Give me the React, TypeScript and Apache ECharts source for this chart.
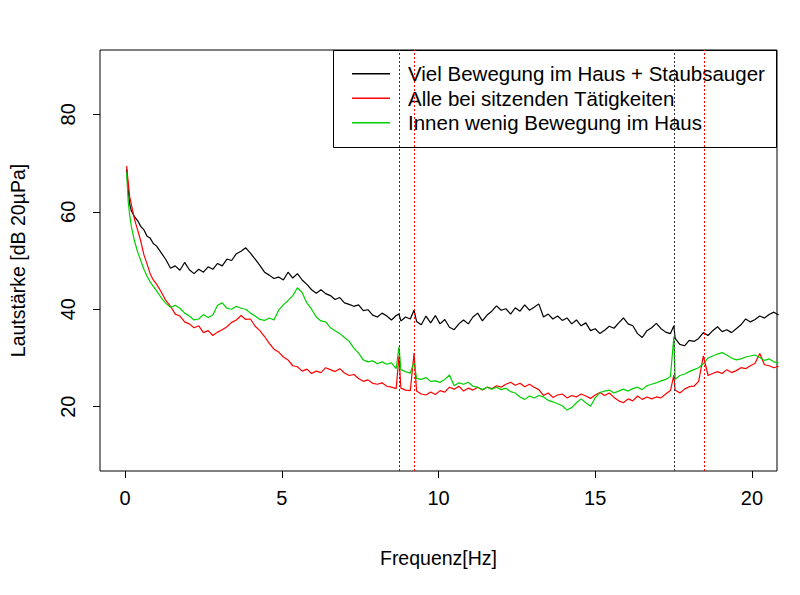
import React, { useEffect, useRef } from "react";
import * as echarts from "echarts";

const freq = [
  0.05, 0.1, 0.15, 0.2, 0.3, 0.4, 0.5, 0.6, 0.7, 0.8, 0.9, 1.0,
  1.15, 1.3, 1.45, 1.6, 1.75, 1.9,
  2.05, 2.2, 2.35, 2.5, 2.65, 2.8, 2.95,
  3.1, 3.25, 3.4, 3.55, 3.7, 3.85,
  4.0, 4.15, 4.3, 4.45, 4.6, 4.75, 4.9,
  5.05, 5.2, 5.35, 5.5, 5.65, 5.8, 5.95,
  6.1, 6.25, 6.4, 6.55, 6.7, 6.85,
  7.0, 7.15, 7.3, 7.45, 7.6, 7.75, 7.9,
  8.05, 8.2, 8.35, 8.5, 8.65,
  8.74, 8.8, 8.95, 9.1, 9.22, 9.3,
  9.45, 9.6, 9.75, 9.9,
  10.05, 10.2, 10.35, 10.5, 10.65, 10.8, 10.95,
  11.1, 11.25, 11.4, 11.55, 11.7, 11.85,
  12.0, 12.15, 12.3, 12.45, 12.6, 12.75, 12.9,
  13.05, 13.2, 13.35, 13.5, 13.65, 13.8, 13.95,
  14.1, 14.25, 14.4, 14.55, 14.7, 14.85,
  15.0, 15.15, 15.3, 15.45, 15.6, 15.75, 15.9,
  16.05, 16.2, 16.35, 16.5, 16.65, 16.8, 16.95,
  17.1, 17.25, 17.4,
  17.51, 17.55,
  17.7, 17.85,
  18.0, 18.15, 18.3, 18.45, 18.6, 18.75, 18.9,
  19.05, 19.2, 19.35, 19.5, 19.65, 19.8, 19.95,
  20.1, 20.25, 20.4, 20.55, 20.7, 20.85,
];

const vielBewegung = [
  68.8, 64.5, 61.5, 60.2, 59.0, 58.2, 57.0, 56.3, 55.0, 54.6, 53.5, 53.0,
  51.6, 50.2, 48.4, 48.9, 48.0, 49.6,
  48.1, 47.3, 48.2, 47.6, 48.7, 48.2, 49.4,
  48.9, 50.3, 50.0, 51.4, 51.9, 52.6,
  51.5, 50.3, 49.0, 47.6, 47.0, 46.3, 46.6,
  46.0, 47.6, 46.4, 47.3, 46.0, 45.1, 44.0,
  43.3, 44.0, 43.2, 42.8, 42.0, 42.4,
  41.3, 41.0, 40.6, 40.9, 39.7, 39.9, 38.8,
  38.4, 39.2, 38.6, 37.8, 38.7,
  39.0, 37.6, 38.4, 38.0, 39.8, 37.5,
  36.8, 38.6, 37.2, 38.7,
  37.0, 37.9, 36.3, 35.8, 37.0, 37.8, 37.0,
  38.4, 39.2, 37.6, 38.8, 39.6, 40.7,
  39.8, 40.1, 39.0, 40.3, 39.6, 40.9, 39.8,
  40.4, 41.1, 38.4, 39.0, 38.0, 38.6, 37.7,
  38.2, 37.0, 37.8, 36.6, 37.2, 35.6,
  36.0, 35.0, 35.7, 36.5, 36.1, 37.2, 38.2,
  37.0, 36.6, 35.0, 34.2, 35.6, 36.2, 37.1,
  36.0, 35.3, 35.0,
  36.6, 34.0,
  32.8, 32.5,
  33.6, 33.4, 34.0, 35.2, 34.6, 35.6, 36.4,
  35.4, 35.8, 35.2, 36.0, 36.8, 38.0, 37.4,
  37.9, 38.6, 38.2, 38.9, 39.4, 38.8,
];

const sitzend = [
  69.4, 66.0, 63.0, 61.5, 58.5, 56.3, 54.0, 51.2, 49.3, 47.3, 46.0, 45.2,
  43.6, 41.8, 40.6, 39.0, 38.6, 37.4,
  37.0, 36.2, 36.6, 35.2, 35.6, 34.6, 35.3,
  35.8, 36.4, 37.3, 37.8, 38.7, 37.9,
  38.0, 36.5, 35.6, 34.4, 33.0, 31.8, 31.2,
  30.2, 29.6, 28.4, 28.2, 27.3, 27.7, 26.8,
  27.3, 27.0, 28.0, 27.6, 27.2, 27.8,
  26.9, 26.4, 26.6, 25.8, 25.2, 25.5, 24.8,
  24.6, 24.9, 24.2, 24.0, 23.7,
  30.5, 23.8, 23.4, 23.3, 31.0, 23.2,
  22.6, 22.4, 23.0, 22.5,
  23.3, 23.0, 24.0, 23.6, 24.2, 23.2, 23.8,
  23.4, 24.0, 23.4, 24.0, 23.7, 24.3,
  24.0, 24.6, 25.0, 24.4, 24.8, 24.1, 24.6,
  24.0, 23.5, 22.3, 22.8, 21.9, 22.4, 22.6,
  21.8, 22.3, 22.0, 22.6, 22.2, 21.7,
  22.4, 22.9, 22.3, 22.8, 21.9, 21.2, 20.8,
  21.6, 21.2, 22.2, 21.5, 22.0, 21.6, 22.0,
  21.8, 22.6, 23.3,
  26.5, 23.4,
  22.8, 23.6,
  24.1, 24.2, 25.2, 30.4, 26.4, 26.8, 27.2,
  26.8, 27.6, 27.0, 27.4, 28.0, 27.8, 28.4,
  28.9, 30.9, 28.6, 28.4, 28.0, 28.3,
];

const wenigBewegung = [
  68.0, 62.0, 59.2, 57.0, 54.0, 51.8, 50.0, 48.2, 46.8, 45.6, 44.7, 43.8,
  42.4, 41.2, 40.4, 40.8, 40.2, 39.2,
  38.6, 37.8, 38.0, 38.9, 38.3, 38.8, 40.8,
  41.3, 40.2, 40.0, 40.6, 40.2, 40.0,
  39.2, 38.6, 37.9, 37.7, 38.2, 37.8, 39.8,
  40.9, 41.8, 42.8, 44.4, 43.4, 41.3, 40.0,
  38.4, 37.6, 37.4, 36.2, 35.6, 35.0,
  34.2, 33.4, 32.0, 31.0, 29.6, 29.2, 29.4,
  28.8, 29.2, 28.7, 29.0, 27.8,
  32.3, 27.6, 27.2, 26.9, 29.2, 25.8,
  25.6, 26.0, 25.2, 25.3,
  25.0, 25.6, 26.5, 24.3, 24.9, 24.6, 25.0,
  24.2, 24.0, 23.5, 24.0, 23.6, 24.0,
  23.5, 23.8, 23.1, 22.8, 22.0, 21.5, 22.2,
  21.8, 22.3, 22.0, 21.3, 21.0, 20.6, 20.2,
  19.3, 19.8, 20.8, 21.6, 20.8, 20.1,
  21.8, 22.9, 23.2, 23.4, 22.8, 23.2, 23.6,
  23.2, 23.7, 24.0, 23.5, 24.3, 24.6, 24.9,
  25.3, 25.6, 26.2,
  34.4, 25.6,
  26.4, 26.7,
  27.2, 27.6, 28.0, 28.8, 30.0, 30.4, 30.8,
  31.1, 30.6, 30.0, 29.6, 29.8, 30.2, 30.4,
  30.6, 30.1, 29.5, 29.8, 29.2, 29.0,
];

const seriesNames = [
  "Viel Bewegung im Haus + Staubsauger",
  "Alle bei sitzenden Tätigkeiten",
  "Innen wenig Bewegung im Haus",
];
const seriesColors = ["#000000", "#FF0000", "#00D000"];

const xTicks = [0, 5, 10, 15, 20];
const yTicks = [20, 40, 60, 80];
const blackMarkers = [8.74, 17.51];
const redMarkers = [9.22, 18.47];

const FONT = "'Liberation Sans', Arial, Helvetica, sans-serif";

export default function App() {
  const ref = useRef<HTMLDivElement>(null);
  useEffect(() => {
    if (!ref.current) return;
    const chart = echarts.init(ref.current, null, { renderer: "svg" });
    const values = [vielBewegung, sitzend, wenigBewegung];
    const series: any[] = values.map((vals, si) => ({
      name: seriesNames[si],
      type: "line",
      symbol: "none",
      showSymbol: false,
      silent: true,
      z: 2 + si,
      lineStyle: { color: seriesColors[si], width: 1.2 },
      itemStyle: { color: seriesColors[si] },
      data: freq.map((f, i) => [f, vals[i]]),
    }));
    series[2].markLine = {
      silent: true,
      symbol: ["none", "none"],
      label: { show: false },
      animation: false,
      data: [
        ...blackMarkers.map((v) => ({
          xAxis: v,
          lineStyle: { color: "#333333", type: [2, 2], width: 1 },
        })),
        ...redMarkers.map((v) => ({
          xAxis: v,
          lineStyle: { color: "#FF0000", type: [2, 2], width: 1 },
        })),
      ],
    };
    chart.setOption({
      animation: false,
      backgroundColor: "#ffffff",
      textStyle: { fontFamily: FONT },
      grid: {
        left: 100,
        right: 23,
        top: 50,
        bottom: 124,
        show: true,
        borderColor: "#000000",
        borderWidth: 1,
        backgroundColor: "transparent",
      },
      legend: {
        left: 352,
        top: 61.5,
        orient: "vertical",
        padding: 0,
        itemGap: 0,
        itemWidth: 38,
        itemHeight: 1.5,
        icon: "rect",
        selectedMode: false,
        data: seriesNames,
        textStyle: {
          fontFamily: FONT,
          fontSize: 20.5,
          color: "#000000",
          lineHeight: 24.5,
          padding: [0, 0, 0, 13],
        },
      },
      xAxis: {
        type: "value",
        min: -0.8,
        max: 20.8,
        name: "Frequenz[Hz]",
        nameLocation: "middle",
        nameGap: 77,
        nameTextStyle: { fontFamily: FONT, fontSize: 19.5, color: "#000000" },
        axisLine: { show: false, onZero: false },
        splitLine: { show: false },
        axisTick: {
          show: true,
          length: 7,
          customValues: xTicks,
          lineStyle: { color: "#000000" },
        },
        axisLabel: {
          customValues: xTicks,
          fontSize: 20,
          color: "#000000",
          margin: 17,
          fontFamily: FONT,
        },
      },
      yAxis: {
        type: "value",
        min: 6.8,
        max: 93.2,
        name: "Lautstärke [dB 20µPa]",
        nameLocation: "middle",
        nameGap: 72,
        nameTextStyle: { fontFamily: FONT, fontSize: 19.5, color: "#000000" },
        axisLine: { show: false, onZero: false },
        splitLine: { show: false },
        axisTick: {
          show: true,
          length: 7,
          customValues: yTicks,
          lineStyle: { color: "#000000" },
        },
        axisLabel: {
          customValues: yTicks,
          rotate: 90,
          fontSize: 20,
          color: "#000000",
          margin: 22,
          fontFamily: FONT,
        },
      },
      graphic: [
        {
          type: "rect",
          silent: true,
          shape: { x: 333.5, y: 50.5, width: 443, height: 97 },
          style: { fill: "none", stroke: "#000000", lineWidth: 1 },
        },
      ],
      series,
    });
    return () => chart.dispose();
  }, []);
  return (
    <div
      ref={ref}
      style={{ position: "fixed", left: 0, top: 0, width: 800, height: 595, background: "#fff" }}
    />
  );
}
